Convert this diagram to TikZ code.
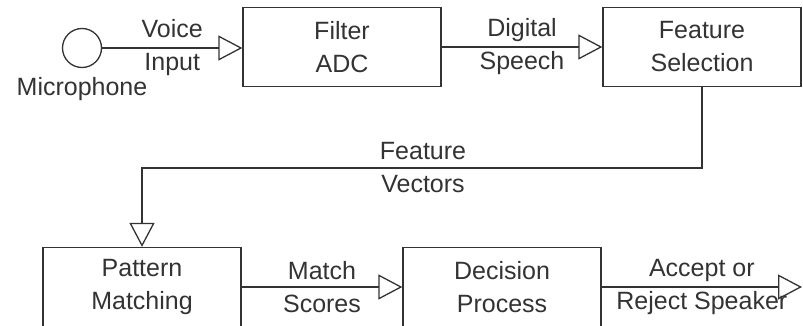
\documentclass[tikz,border=0pt]{standalone}
\usepackage{fontspec}
\setmainfont{Liberation Sans}
\usetikzlibrary{positioning, arrows.meta}

\tikzset{
    block/.style={rectangle, draw, line width=1.3pt, minimum width=198pt, minimum height=79pt, align=center, inner sep=0pt},
    flow/.style={draw, line width=1.3pt, -{Triangle[open, length=24pt, width=25pt]}},
    lbl/.style={align=center, inner sep=0pt}
}

\begin{document}
\begin{tikzpicture}[x=1pt, y=-1pt, font=\fontsize{25}{33}\selectfont, color=black!80]
    \useasboundingbox (0,0) rectangle (803,326);
    \node[circle, draw, line width=1.3pt, minimum size=39pt, inner sep=0pt] (mic) at (82,48) {};
    \node[below=6pt of mic] (miclbl) {Microphone};
    \node[block] (filter) at (342,47) {Filter\\ADC};
    \node[block] (featsel) at (702,47) {Feature\\Selection};
    \node[block] (pattern) at (142,287) {Pattern\\Matching};
    \node[block] (decision) at (502,287) {Decision\\Process};
    \coordinate (fv) at (423,168);
    \coordinate (out) at (802,287);

    \draw[flow] (mic.east) -- (filter.west |- mic.east)
        node[midway, lbl] (vilbl) {Voice\\Input};
    \draw[flow] (filter.east) -- (featsel.west)
        node[midway, lbl] (dslbl) {Digital\\Speech};
    \draw[flow] (featsel.south) |- (fv) -| (pattern.north);
    \node[lbl] (fvlbl) at (fv) {Feature\\Vectors};
    \draw[flow] (pattern.east) -- (decision.west)
        node[midway, lbl] (mslbl) {Match\\Scores};
    \draw[flow] (decision.east) -- (out)
        node[midway, lbl] (arlbl) {Accept or\\Reject Speaker};
\end{tikzpicture}
\end{document}
